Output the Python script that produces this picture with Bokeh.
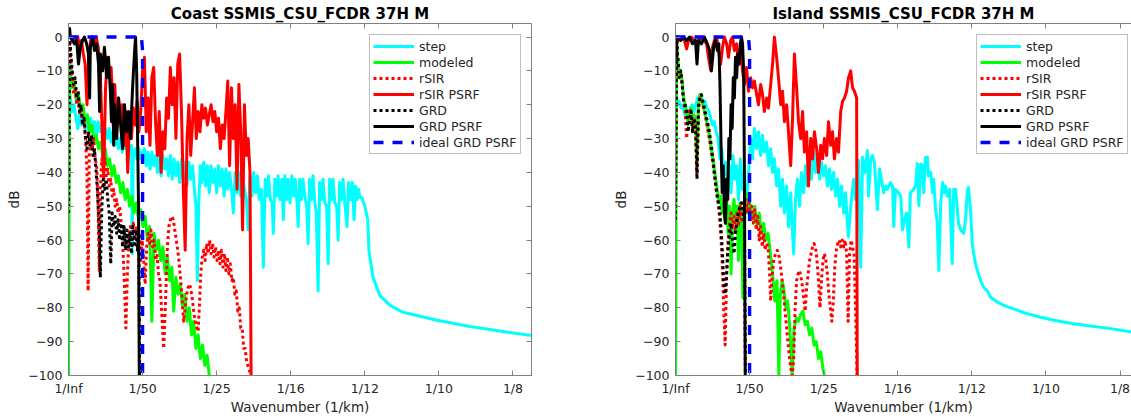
from bokeh.plotting import figure
from bokeh.models import Range1d, FixedTicker, LinearAxis, ColumnDataSource, CustomJSTickFormatter
from bokeh.layouts import row
from bokeh.embed import file_html
from bokeh.resources import INLINE

# ---------------- data ----------------
XTICKS = [0, 0.02, 0.04, 0.06, 0.08, 0.1, 0.12]
XTICK_LABELS = ["1/Inf", "1/50", "1/25", "1/16", "1/12", "1/10", "1/8"]
YTICKS = [-100, -90, -80, -70, -60, -50, -40, -30, -20, -10, 0]
SERIES_NAMES = ["step", "modeled", "rSIR", "rSIR PSRF", "GRD", "GRD PSRF", "ideal GRD PSRF"]
TITLES = ["Coast SSMIS_CSU_FCDR 37H M", "Island SSMIS_CSU_FCDR 37H M"]

ideal_psrf = [(0, 0), (0.0197, 0), (0.02, -4), (0.02, -120)]

coast_step = [
    (0.0, -12), (0.0005, -18), (0.001, -22), (0.0015, -20), (0.002, -24), (0.0025, -27), (0.003, -23), (0.0035, -26),
    (0.004, -24), (0.0045, -27), (0.005, -25), (0.0055, -28), (0.006, -24), (0.0065, -27), (0.007, -25), (0.0075, -29),
    (0.008, -25), (0.0085, -28), (0.009, -26), (0.0095, -29), (0.01, -27), (0.0105, -30), (0.011, -27), (0.0115, -31),
    (0.012, -28), (0.0125, -32), (0.013, -29), (0.0135, -33), (0.014, -30), (0.0145, -34), (0.015, -31), (0.0155, -33),
    (0.016, -31), (0.0165, -34), (0.017, -32), (0.0172, -64), (0.0175, -35), (0.018, -33), (0.0185, -36), (0.019, -33),
    (0.0195, -36), (0.02, -34),
    (0.0205, -33), (0.021, -38), (0.0215, -34), (0.022, -39), (0.0225, -34), (0.023, -38), (0.0235, -35), (0.024, -40),
    (0.0245, -34), (0.025, -41), (0.0255, -35), (0.026, -39), (0.0265, -36), (0.027, -41), (0.0275, -35), (0.028, -42),
    (0.0285, -36), (0.029, -41), (0.0295, -37), (0.03, -43), (0.0305, -36), (0.031, -42), (0.0315, -37), (0.032, -44),
    (0.0325, -37), (0.033, -42), (0.0335, -38), (0.034, -45), (0.0344, -50), (0.0348, -72), (0.0352, -48), (0.0356, -38),
    (0.036, -43), (0.0365, -37), (0.037, -44), (0.0375, -38), (0.038, -46), (0.0385, -38), (0.039, -43), (0.0395, -39),
    (0.04, -46), (0.0405, -38), (0.041, -44), (0.0415, -39), (0.042, -47), (0.0425, -39), (0.043, -45), (0.0435, -40),
    (0.0441, -46), (0.0445, -52), (0.045, -40), (0.0455, -46), (0.046, -40), (0.0465, -47), (0.047, -41), (0.0475, -45),
    (0.048, -48), (0.0485, -57), (0.049, -41), (0.0495, -47), (0.05, -40), (0.0505, -46), (0.051, -41), (0.0515, -48),
    (0.0521, -45), (0.0526, -68), (0.0531, -42), (0.0536, -47), (0.054, -41), (0.0545, -48), (0.055, -49), (0.0553, -58),
    (0.0557, -42), (0.0562, -47), (0.0566, -41), (0.0571, -48), (0.0576, -42), (0.058, -54), (0.0584, -41), (0.0589, -48),
    (0.0593, -42), (0.0598, -49), (0.0603, -41), (0.0608, -47), (0.0612, -42), (0.0617, -49), (0.062, -56), (0.0624, -42),
    (0.0629, -48), (0.0633, -42), (0.0638, -47), (0.0643, -50), (0.0647, -61), (0.0651, -42), (0.0656, -48), (0.066, -41),
    (0.0665, -49), (0.0669, -52), (0.0674, -75), (0.0678, -43), (0.0683, -48), (0.0687, -42), (0.0692, -49), (0.0697, -50),
    (0.0701, -67), (0.0705, -42), (0.071, -48), (0.0714, -42), (0.0719, -49), (0.0724, -50), (0.0728, -60), (0.0732, -43),
    (0.0737, -48), (0.0741, -42), (0.0746, -49), (0.0752, -56), (0.0756, -43), (0.0761, -48), (0.0766, -43), (0.0771, -54),
    (0.0775, -44), (0.0779, -48), (0.0783, -45), (0.0787, -47.5),
    (0.0792, -47.5), (0.08, -50), (0.0808, -54), (0.0811, -63), (0.0822, -71), (0.0841, -76.4),
    (0.0868, -79.3), (0.0903, -81.3), (0.0949, -82.5), (0.0995, -83.7), (0.1084, -85.5), (0.1173, -87), (0.125, -88.2)]

coast_modeled = [
    (0, -100), (0.0003, -8), (0.0009, -15), (0.0015, -13), (0.0021, -19), (0.0027, -17), (0.0033, -22), (0.0039, -20),
    (0.0045, -25), (0.0051, -23), (0.0057, -28), (0.0063, -26), (0.0069, -31), (0.0075, -29), (0.0081, -33), (0.0087, -31),
    (0.0093, -36), (0.0099, -33), (0.0105, -38), (0.0111, -36), (0.0117, -41), (0.0123, -38), (0.0129, -43), (0.0135, -41),
    (0.0141, -46), (0.0147, -43), (0.0153, -48), (0.0159, -45), (0.0165, -50), (0.0171, -47), (0.0177, -52), (0.0183, -49),
    (0.0189, -54), (0.0195, -51), (0.0201, -56), (0.0207, -53), (0.0213, -60), (0.0219, -56), (0.0225, -84), (0.0231, -58),
    (0.0237, -63), (0.0243, -60), (0.0249, -66), (0.0255, -62), (0.0261, -70), (0.0267, -65), (0.0273, -72), (0.0279, -68),
    (0.0284, -81), (0.029, -71), (0.0296, -76), (0.0302, -73), (0.0308, -80), (0.0314, -76), (0.032, -84), (0.0326, -80),
    (0.0332, -88), (0.0338, -84), (0.0344, -92), (0.035, -88), (0.0356, -95), (0.0362, -91), (0.0368, -97), (0.0374, -94),
    (0.038, -100), (0.0383, -120)]

coast_rsir = [
    (0, -52), (0.0003, -2), (0.0007, -8), (0.001, -12), (0.0014, -17), (0.0018, -15), (0.0022, -20), (0.0026, -18),
    (0.003, -23), (0.0034, -21), (0.0038, -26), (0.0042, -24), (0.0046, -30), (0.005, -40), (0.0053, -75), (0.0056, -35),
    (0.006, -30), (0.0064, -33), (0.0068, -30), (0.0072, -36), (0.0076, -38), (0.008, -50), (0.0083, -69), (0.0086, -45),
    (0.009, -36), (0.0094, -39), (0.0098, -36), (0.0102, -41), (0.0106, -39), (0.011, -44), (0.0114, -42), (0.0118, -47),
    (0.0122, -45), (0.0126, -50), (0.013, -48), (0.0134, -52), (0.0138, -50), (0.0142, -55), (0.0146, -60), (0.015, -70),
    (0.0155, -86), (0.0159, -70), (0.0163, -60), (0.0167, -56), (0.0171, -58), (0.0175, -55), (0.0179, -59), (0.0183, -56),
    (0.0187, -62), (0.0191, -58), (0.0195, -66), (0.0199, -60), (0.0203, -66), (0.0207, -73), (0.0211, -62), (0.0215, -58),
    (0.0219, -61), (0.0223, -57), (0.0227, -62), (0.0231, -60), (0.0235, -66), (0.0239, -64), (0.0243, -70), (0.0247, -72),
    (0.0251, -80), (0.0257, -92), (0.0263, -75), (0.0267, -62), (0.0271, -56), (0.0275, -54), (0.0279, -53), (0.0283, -54),
    (0.0287, -57), (0.0291, -60), (0.0295, -63), (0.0299, -67), (0.0303, -72), (0.0307, -78), (0.0311, -84), (0.0315, -80),
    (0.0319, -76), (0.0323, -74), (0.0327, -73), (0.0331, -75), (0.0335, -78), (0.0339, -82), (0.0344, -85), (0.035, -87),
    (0.0354, -78), (0.0357, -70), (0.0361, -65), (0.0365, -63), (0.0369, -66), (0.0373, -61), (0.0377, -64), (0.0381, -60),
    (0.0385, -64), (0.0389, -61), (0.0393, -65), (0.0397, -62), (0.0401, -66), (0.0405, -63), (0.0409, -67), (0.0413, -63),
    (0.0417, -68), (0.0421, -64), (0.0425, -69), (0.0429, -65), (0.0433, -70), (0.0437, -67), (0.0441, -72), (0.0445, -71),
    (0.0449, -76), (0.0453, -75), (0.0457, -81), (0.0461, -80), (0.0465, -86), (0.0469, -86), (0.0473, -92), (0.0477, -92),
    (0.0481, -96), (0.0487, -98), (0.0493, -100), (0.0495, -120)]

coast_rsir_psrf = [
    (0, 0), (0.0005, 0), (0.001, -1), (0.0015, 0), (0.002, -1), (0.0025, 0), (0.003, -3), (0.0035, -1), (0.004, -5),
    (0.0045, -8), (0.005, -20), (0.0055, -5), (0.006, -1), (0.0065, 0), (0.007, -2), (0.0075, 0), (0.008, -3), (0.0085, -8),
    (0.009, -25), (0.0095, -42), (0.01, -15), (0.0105, -6), (0.011, -12), (0.0115, -9), (0.012, -20), (0.0125, -14),
    (0.013, -28), (0.0135, -18), (0.014, -25), (0.0145, -20), (0.015, -32), (0.0155, -22), (0.016, -40), (0.0165, -24),
    (0.017, -30), (0.0175, -21), (0.018, -26), (0.0185, -19), (0.019, -28), (0.0195, -22), (0.02, -10), (0.0205, -6),
    (0.021, -28), (0.0215, -18), (0.022, -32), (0.0225, -12), (0.023, -9), (0.0235, -25), (0.024, -35), (0.0245, -22),
    (0.025, -40), (0.0255, -28), (0.026, -33), (0.0265, -18), (0.027, -24), (0.0275, -9), (0.028, -20), (0.0285, -12),
    (0.029, -30), (0.0295, -8), (0.03, -5), (0.0305, -22), (0.031, -45), (0.0315, -63), (0.032, -30), (0.0325, -20),
    (0.033, -35), (0.0335, -25), (0.034, -15), (0.0345, -30), (0.035, -22), (0.0355, -28), (0.036, -20), (0.0365, -24),
    (0.037, -21), (0.0375, -26), (0.038, -23), (0.0385, -20), (0.039, -25), (0.0395, -22), (0.04, -28), (0.0405, -24),
    (0.041, -33), (0.0415, -26), (0.042, -30), (0.0425, -22), (0.043, -13), (0.0435, -38), (0.044, -15), (0.0445, -30),
    (0.045, -20), (0.0455, -45), (0.046, -14), (0.0465, -28), (0.047, -57), (0.0475, -20), (0.048, -35), (0.0485, -30),
    (0.049, -40), (0.0494, -120)]

coast_grd = [
    (0, -52), (0.0003, 0), (0.0007, -6), (0.001, -10), (0.0014, -14), (0.0018, -12), (0.0022, -18), (0.0026, -16),
    (0.003, -22), (0.0034, -20), (0.0038, -26), (0.0042, -24), (0.0046, -30), (0.005, -33), (0.0054, -28), (0.0058, -32),
    (0.0062, -29), (0.0066, -35), (0.007, -33), (0.0074, -39), (0.0078, -45), (0.0082, -55), (0.0086, -71), (0.009, -50),
    (0.0094, -42), (0.0098, -45), (0.0102, -42), (0.0106, -48), (0.011, -52), (0.0114, -67), (0.0118, -52), (0.0122, -56),
    (0.0126, -53), (0.013, -58), (0.0134, -54), (0.0138, -60), (0.0142, -55), (0.0146, -62), (0.015, -56), (0.0154, -63),
    (0.0158, -57), (0.0162, -62), (0.0166, -58), (0.017, -64), (0.0174, -56), (0.0178, -62), (0.0182, -57), (0.0186, -63),
    (0.019, -58), (0.0193, -120)]

coast_grd_psrf = [
    (0, 0), (0.0003, 2.5), (0.0005, 0), (0.0011, -1), (0.0016, -2), (0.0022, -1), (0.0027, -8), (0.0032, -3), (0.0038, -1),
    (0.0043, 0), (0.0049, -2), (0.0054, -5), (0.0057, -18), (0.0059, -3), (0.0065, 0), (0.007, -4), (0.0076, -2),
    (0.0081, -8), (0.0084, -22), (0.0086, -5), (0.0092, -10), (0.0097, -3), (0.0103, -12), (0.0108, -6), (0.0113, -16),
    (0.0116, -25), (0.0119, -14), (0.0122, -32), (0.0124, -20), (0.013, -30), (0.0135, -18), (0.014, -25), (0.0146, -33),
    (0.0151, -20), (0.0157, -28), (0.0162, -22), (0.0167, -30), (0.0173, -15), (0.0178, -5), (0.0181, 0), (0.0184, -10),
    (0.0186, -25), (0.0189, -50), (0.0192, -120)]

island_step = [
    (0, -12), (0.0005, -20), (0.001, -19), (0.0015, -21), (0.002, -20), (0.0025, -23), (0.003, -22), (0.0035, -25),
    (0.004, -21), (0.0045, -20), (0.005, -22), (0.0055, -20), (0.006, -18), (0.0065, -19), (0.007, -18), (0.0075, -20),
    (0.008, -19), (0.0085, -21), (0.009, -22), (0.0095, -24), (0.01, -26), (0.0105, -25), (0.011, -28), (0.0115, -30),
    (0.012, -36), (0.0125, -33), (0.013, -40), (0.0135, -37), (0.014, -44), (0.0145, -38), (0.015, -46), (0.0155, -35),
    (0.016, -42), (0.0165, -38), (0.017, -48), (0.0175, -36), (0.018, -45), (0.0185, -40), (0.019, -50), (0.0195, -44),
    (0.0203, -30), (0.0208, -36), (0.0213, -27), (0.0219, -33), (0.0224, -28), (0.023, -35), (0.0235, -29), (0.024, -34),
    (0.0246, -31), (0.0251, -38), (0.0257, -33), (0.0262, -40), (0.0267, -36), (0.0273, -44), (0.0278, -39), (0.0284, -50),
    (0.0289, -42), (0.0294, -52), (0.03, -44), (0.0305, -56), (0.0311, -46), (0.0316, -58), (0.0319, -64), (0.0324, -48),
    (0.0329, -42), (0.0335, -50), (0.034, -40), (0.0346, -46), (0.0351, -38), (0.0356, -44), (0.0362, -36), (0.0367, -42),
    (0.0373, -34), (0.0378, -40), (0.0383, -36), (0.0389, -42), (0.0394, -37), (0.04, -41), (0.0405, -38), (0.041, -44),
    (0.0416, -39), (0.0421, -45), (0.0427, -40), (0.0432, -47), (0.0437, -42), (0.0443, -50), (0.0448, -44), (0.0454, -52),
    (0.0459, -46), (0.0464, -55), (0.0467, -59), (0.0473, -50), (0.0481, -42), (0.0486, -48), (0.0494, -36.5), (0.05, -68),
    (0.0505, -35.5), (0.0511, -40), (0.0518, -33.5), (0.0521, -47), (0.0527, -36), (0.0532, -35), (0.0537, -37),
    (0.0545, -51), (0.0551, -39), (0.0556, -42), (0.0562, -46), (0.0567, -44), (0.0572, -45), (0.058, -43), (0.0586, -44),
    (0.0589, -56), (0.0594, -45), (0.0602, -46), (0.0608, -47), (0.0613, -57), (0.0618, -54), (0.0624, -52), (0.063, -62),
    (0.0634, -46), (0.0643, -45), (0.0648, -44), (0.0653, -37.4), (0.0657, -49.8), (0.0662, -37.5), (0.0667, -38),
    (0.067, -46), (0.0675, -35.5), (0.068, -35.5), (0.0683, -41), (0.0689, -40), (0.0694, -46), (0.0697, -42), (0.0702, -51),
    (0.0706, -54), (0.0711, -69), (0.0716, -49), (0.0721, -43), (0.0726, -46), (0.0729, -44), (0.0734, -47), (0.074, -45),
    (0.0743, -54), (0.0747, -67), (0.0751, -45), (0.0756, -45), (0.0761, -51), (0.0764, -55), (0.077, -57), (0.0778, -58),
    (0.0783, -54), (0.0788, -45.4), (0.0791, -44.5), (0.0797, -52), (0.0801, -61), (0.0805, -64), (0.081, -67),
    (0.0815, -69), (0.0824, -72), (0.0832, -74), (0.0842, -75), (0.085, -76.8), (0.0869, -78.3), (0.0891, -79.5),
    (0.0913, -80.3), (0.0945, -81.6), (0.0986, -82.8), (0.1029, -83.8), (0.1075, -84.7), (0.112, -85.4), (0.1166, -86),
    (0.1202, -86.6), (0.1231, -87.2), (0.125, -87.5)]

island_modeled = [
    (0, -100), (0.0003, 0), (0.0006, -6), (0.001, -11), (0.0014, -10), (0.0018, -13), (0.0022, -18), (0.0026, -20),
    (0.003, -22), (0.0034, -26), (0.0038, -23), (0.0042, -21), (0.0046, -26), (0.005, -23), (0.0054, -25), (0.0058, -38),
    (0.0062, -20), (0.0066, -17), (0.007, -18), (0.0074, -20), (0.0078, -22), (0.0082, -24), (0.0086, -26), (0.009, -28),
    (0.0094, -31), (0.0098, -34), (0.0102, -37), (0.0106, -40), (0.011, -43), (0.0114, -46), (0.0118, -49), (0.0122, -47),
    (0.0126, -52), (0.013, -50), (0.0134, -55), (0.0138, -48), (0.0142, -58), (0.0146, -50), (0.015, -70), (0.0154, -52),
    (0.0158, -48), (0.0162, -54), (0.0166, -50), (0.017, -66), (0.0174, -49), (0.0178, -52), (0.0182, -77), (0.0186, -50),
    (0.019, -46), (0.0194, -52), (0.0198, -48), (0.0202, -50), (0.0208, -54), (0.0214, -50), (0.022, -56), (0.0226, -52),
    (0.0232, -58), (0.0238, -55), (0.0244, -60), (0.025, -58), (0.0256, -64), (0.0262, -70), (0.0268, -78), (0.0274, -72),
    (0.0279, -100), (0.0283, -76), (0.0288, -72), (0.0293, -75), (0.0298, -80), (0.0303, -78), (0.0308, -85),
    (0.0315, -100), (0.032, -86), (0.0326, -83), (0.0332, -84), (0.0338, -82), (0.0344, -81), (0.035, -85), (0.0356, -84),
    (0.0362, -88), (0.0368, -86), (0.0374, -91), (0.038, -90), (0.0386, -95), (0.0392, -93), (0.0398, -98), (0.0402, -100),
    (0.0404, -120)]

island_rsir = [
    (0, -54), (0.0003, 0), (0.0006, -6), (0.001, -12), (0.0014, -10), (0.0018, -14), (0.0022, -19), (0.0026, -22),
    (0.003, -30), (0.0034, -24), (0.0038, -21), (0.0042, -23), (0.0046, -27), (0.005, -24), (0.0054, -27), (0.0058, -40),
    (0.0062, -22), (0.0066, -18), (0.007, -18), (0.0074, -20), (0.0078, -22), (0.0082, -24), (0.0086, -27), (0.009, -29),
    (0.0094, -32), (0.0098, -35), (0.0102, -38), (0.0106, -42), (0.011, -45), (0.0114, -48), (0.0118, -52), (0.0122, -58),
    (0.0126, -66), (0.013, -80), (0.0134, -91), (0.0138, -70), (0.0142, -60), (0.0146, -55), (0.015, -52), (0.0154, -56),
    (0.0158, -53), (0.0162, -58), (0.0166, -52), (0.017, -56), (0.0174, -50), (0.0178, -54), (0.0182, -49), (0.0186, -53),
    (0.019, -48), (0.0194, -52), (0.0198, -49), (0.0202, -54), (0.0206, -50), (0.021, -55), (0.0214, -51), (0.0218, -57),
    (0.0222, -53), (0.0226, -60), (0.023, -56), (0.0234, -62), (0.0238, -58), (0.0242, -63), (0.0246, -61), (0.025, -62),
    (0.0254, -70), (0.0257, -78), (0.026, -72), (0.0265, -66), (0.027, -64), (0.0275, -63), (0.028, -65), (0.0285, -69),
    (0.029, -74), (0.0295, -80), (0.03, -86), (0.0305, -92), (0.031, -97), (0.0315, -100), (0.0319, -95), (0.0323, -80),
    (0.0327, -72), (0.0331, -70), (0.0335, -69), (0.0339, -71), (0.0343, -74), (0.0347, -78), (0.035, -81), (0.0354, -74),
    (0.0358, -70), (0.0362, -66), (0.0366, -64), (0.037, -62), (0.0374, -61), (0.0378, -62), (0.0382, -66), (0.0386, -72),
    (0.039, -80), (0.0394, -72), (0.0398, -66), (0.0402, -64), (0.0406, -66), (0.041, -70), (0.0414, -76), (0.0418, -80),
    (0.0422, -84), (0.0426, -78), (0.043, -68), (0.0434, -63), (0.0438, -61), (0.0442, -60), (0.0446, -62), (0.045, -60),
    (0.0454, -62), (0.0458, -60), (0.0462, -64), (0.0466, -84), (0.047, -64), (0.0474, -60), (0.0478, -62), (0.0482, -64),
    (0.0486, -80), (0.049, -100), (0.0492, -120)]

island_rsir_psrf = [
    (0, 0), (0.0008, -1), (0.0016, 0), (0.0024, -1), (0.003, -3.5), (0.0035, -1), (0.0043, 0), (0.0051, -1), (0.0059, -2),
    (0.0068, 0), (0.0076, -1), (0.0084, -2), (0.0089, -6), (0.0095, -9.8), (0.01, -3), (0.0105, -1), (0.0111, 0),
    (0.0116, -4), (0.0122, -8), (0.0127, -3), (0.0132, 0), (0.0138, -2), (0.0143, -6), (0.0149, -1), (0.0154, 0),
    (0.0159, -4), (0.0165, -2), (0.017, -8), (0.0176, -3), (0.0181, -10), (0.0186, -14), (0.0192, -9), (0.0197, -16),
    (0.0203, -12), (0.0208, -15), (0.0213, -13), (0.0219, -17), (0.0224, -20), (0.023, -14), (0.0235, -17), (0.024, -22),
    (0.0246, -18), (0.0251, -21), (0.0257, -14), (0.0262, -8), (0.0267, 0), (0.0273, -6), (0.0278, -12), (0.0284, -20),
    (0.0289, -16), (0.0294, -25), (0.03, -20), (0.0305, -28), (0.0311, -38), (0.0316, -24), (0.0321, -5), (0.0327, -15),
    (0.0332, -25), (0.0338, -30), (0.0343, -22), (0.0348, -34), (0.0354, -28), (0.0359, -44), (0.0365, -30), (0.037, -36),
    (0.0375, -28), (0.0381, -33), (0.0386, -40), (0.0392, -32), (0.0397, -36), (0.0402, -30), (0.0408, -35), (0.0413, -25),
    (0.0419, -32), (0.0424, -28), (0.0429, -36), (0.0435, -30), (0.044, -34), (0.0446, -22), (0.0451, -19), (0.0456, -18),
    (0.0462, -16), (0.0467, -12), (0.0473, -10), (0.0478, -15), (0.0483, -16), (0.0489, -18), (0.0491, -120)]

island_grd = [
    (0, -54), (0.0003, 0), (0.0006, -6), (0.001, -12), (0.0014, -10), (0.0018, -14), (0.0022, -19), (0.0026, -20),
    (0.003, -22), (0.0034, -28), (0.0038, -24), (0.0042, -22), (0.0046, -28), (0.005, -24), (0.0054, -26), (0.0058, -42),
    (0.0062, -20), (0.0066, -18), (0.007, -17), (0.0074, -19), (0.0078, -21), (0.0082, -23), (0.0086, -25), (0.009, -27),
    (0.0094, -30), (0.0098, -33), (0.0102, -37), (0.0106, -41), (0.011, -45), (0.0114, -48), (0.0118, -50), (0.0122, -55),
    (0.0126, -62), (0.013, -72), (0.0134, -76), (0.0138, -70), (0.0142, -62), (0.0146, -58), (0.015, -55), (0.0154, -60),
    (0.0158, -64), (0.0162, -58), (0.0166, -54), (0.017, -52), (0.0174, -50), (0.0178, -49), (0.0182, -51), (0.0186, -55),
    (0.019, -120)]

island_grd_psrf = [
    (0, 0), (0.0005, 0), (0.0014, -1), (0.0022, 0), (0.003, -1), (0.0038, 0), (0.0046, -2), (0.0054, -1), (0.0058, -8),
    (0.0062, -1), (0.007, -2), (0.0078, 0), (0.0086, -2), (0.0092, -4), (0.0097, -10), (0.0103, -3), (0.0108, -1),
    (0.0113, -4), (0.0117, -2), (0.012, -14), (0.0123, -32), (0.0126, -46), (0.0129, -38), (0.0132, -52), (0.0135, -55),
    (0.0138, -42), (0.0141, -48), (0.0144, -30), (0.0147, -36), (0.015, -20), (0.0153, -27), (0.0156, -12), (0.0159, -18),
    (0.0162, -6), (0.0165, -12), (0.0168, -5), (0.0172, -8), (0.0175, -2), (0.0178, 0), (0.0181, -2), (0.0184, -10),
    (0.0186, -40), (0.0189, -120)]

COAST = [coast_step, coast_modeled, coast_rsir, coast_rsir_psrf, coast_grd, coast_grd_psrf, ideal_psrf]
ISLAND = [island_step, island_modeled, island_rsir, island_rsir_psrf, island_grd, island_grd_psrf, ideal_psrf]

# ---------------- styles ----------------
STYLES = [
    dict(line_color="#00FFFF", line_width=3, line_dash="solid"),
    dict(line_color="#00FF00", line_width=3, line_dash="solid"),
    dict(line_color="#FF0000", line_width=3, line_dash="3 3"),
    dict(line_color="#FF0000", line_width=3, line_dash="solid"),
    dict(line_color="#000000", line_width=3, line_dash="3 3"),
    dict(line_color="#000000", line_width=3, line_dash="solid"),
    dict(line_color="#0000FF", line_width=3.4, line_dash="10 9"),
]

FONT = "DejaVu Sans"
AX_COLOR = "#808080"
TXT_COLOR = "#262626"
FS = "12.5px"
LABEL_FS = "13.5px"


def style_axis(ax, ticks):
    ax.ticker = FixedTicker(ticks=ticks)
    ax.major_tick_in = 5
    ax.major_tick_out = 0
    ax.minor_tick_line_color = None
    ax.axis_line_color = AX_COLOR
    ax.major_tick_line_color = AX_COLOR
    ax.major_label_text_font = FONT
    ax.major_label_text_font_size = FS
    ax.major_label_text_color = TXT_COLOR
    ax.axis_label_text_font = FONT
    ax.axis_label_text_font_size = LABEL_FS
    ax.axis_label_text_color = TXT_COLOR
    ax.axis_label_text_font_style = "normal"


def blank_axis(ticks):
    ax = LinearAxis(formatter=CustomJSTickFormatter(code="return ''"))
    style_axis(ax, ticks)
    ax.major_label_standoff = 0
    return ax


def make_panel(title, series, x_end, width, b_left, b_right, with_right_axis):
    p = figure(width=width, height=419, x_range=Range1d(0, x_end), y_range=Range1d(-100, 4),
               output_backend="svg", toolbar_location=None,
               min_border_left=b_left, min_border_right=b_right, min_border_top=23, min_border_bottom=44)
    p.outline_line_color = None
    p.background_fill_color = "white"
    p.border_fill_color = "white"
    p.xgrid.visible = False
    p.ygrid.visible = False

    p.title.text = title
    p.title.align = "center"
    p.title.text_font = FONT
    p.title.text_font_size = "15px"
    p.title.text_font_style = "bold"
    p.title.text_color = "#000000"
    p.title.standoff = 1

    style_axis(p.xaxis[0], XTICKS)
    p.xaxis[0].major_label_overrides = dict(zip(XTICKS, XTICK_LABELS))
    p.xaxis[0].axis_label = "Wavenumber (1/km)"
    p.xaxis[0].major_label_standoff = 5
    p.xaxis[0].axis_label_standoff = 0
    style_axis(p.yaxis[0], YTICKS)
    p.yaxis[0].axis_label = "dB"
    p.yaxis[0].major_label_standoff = 6
    p.yaxis[0].axis_label_standoff = 3

    p.add_layout(blank_axis(XTICKS), "above")
    if with_right_axis:
        p.add_layout(blank_axis(YTICKS), "right")

    for name, pts, st in zip(SERIES_NAMES, series, STYLES):
        src = ColumnDataSource(dict(x=[a for a, b in pts], y=[b for a, b in pts]))
        p.line("x", "y", source=src, legend_label=name, line_join="round", **st)

    lg = p.legend[0]
    lg.location = (301, 221)
    lg.border_line_color = AX_COLOR
    lg.border_line_width = 1
    lg.background_fill_color = "white"
    lg.background_fill_alpha = 1.0
    lg.label_text_font = FONT
    lg.label_text_font_size = FS
    lg.label_text_color = TXT_COLOR
    lg.glyph_width = 41
    lg.glyph_height = 16
    lg.label_height = 16
    lg.label_standoff = 5
    lg.spacing = 0
    lg.padding = 3
    lg.margin = 0
    return p


left = make_panel(TITLES[0], COAST, 0.125, 565, 68, 34, True)
right = make_panel(TITLES[1], ISLAND, 0.1231, 566, 110, 0, False)

layout = row(left, right, spacing=0)
open("out.html", "w").write(file_html(layout, INLINE))
